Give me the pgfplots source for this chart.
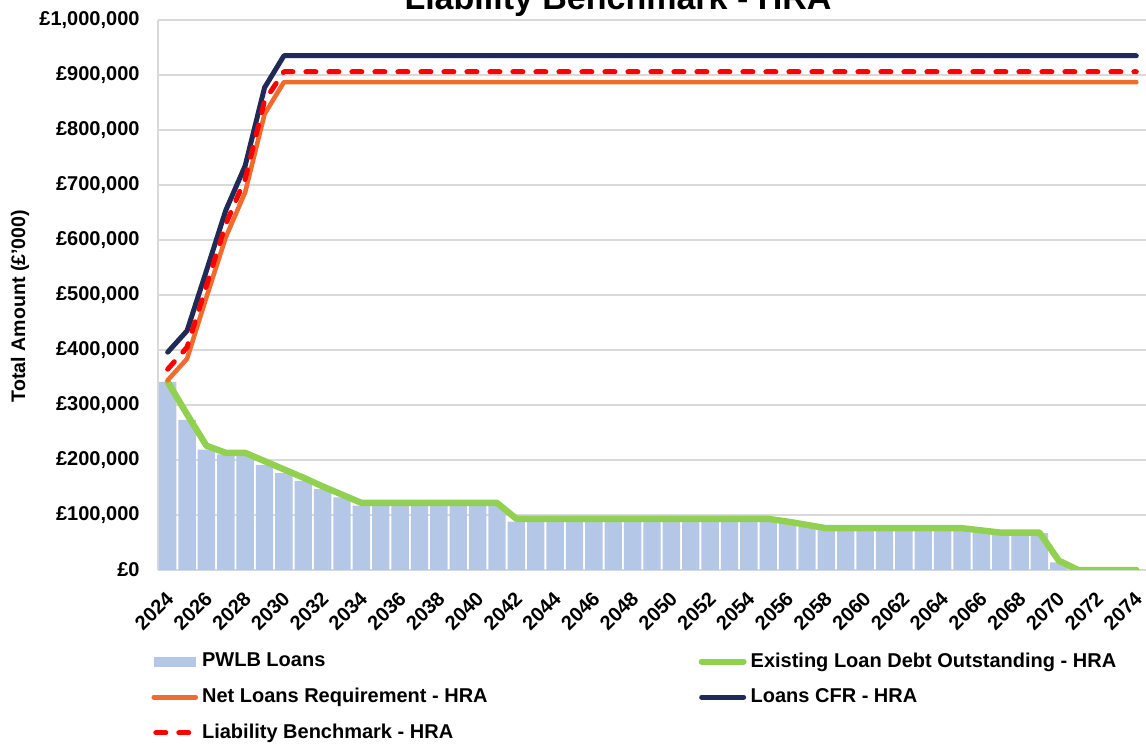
\documentclass[border=0pt]{standalone}
\usepackage{pgfplots}
\pgfplotsset{compat=1.18}
\usepackage{pgfplotstable}
\usepackage{fontspec}
\setmainfont{Liberation Sans}
\definecolor{barblue}{HTML}{B4C7E7}
\definecolor{exgreen}{HTML}{92D050}
\definecolor{netorange}{HTML}{F26B2E}
\definecolor{cfrnavy}{HTML}{1F2A56}
\definecolor{gridgray}{HTML}{D9D9D9}

\pgfplotstableread{
year pwlb existing net cfr lb
2024 342000 342000 345000 396000 365000
2025 273000 283000 384000 435000 405000
2026 219000 226000 496000 544000 517000
2027 210000 213000 605000 654000 629000
2028 208000 213000 687000 735000 711000
2029 191000 198000 829000 877000 853000
2030 176000 183000 887000 935000 906000
2031 162000 168000 887000 935000 906000
2032 147000 152000 887000 935000 906000
2033 132000 137000 887000 935000 906000
2034 117000 122000 887000 935000 906000
2035 117000 122000 887000 935000 906000
2036 117000 122000 887000 935000 906000
2037 117000 122000 887000 935000 906000
2038 117000 122000 887000 935000 906000
2039 117000 122000 887000 935000 906000
2040 117000 122000 887000 935000 906000
2041 117000 122000 887000 935000 906000
2042 88000 93000 887000 935000 906000
2043 88000 93000 887000 935000 906000
2044 88000 93000 887000 935000 906000
2045 88000 93000 887000 935000 906000
2046 88000 93000 887000 935000 906000
2047 88000 93000 887000 935000 906000
2048 88000 93000 887000 935000 906000
2049 88000 93000 887000 935000 906000
2050 88000 93000 887000 935000 906000
2051 88000 93000 887000 935000 906000
2052 88000 93000 887000 935000 906000
2053 88000 93000 887000 935000 906000
2054 88000 93000 887000 935000 906000
2055 88000 93000 887000 935000 906000
2056 85000 88000 887000 935000 906000
2057 78000 82000 887000 935000 906000
2058 73000 76000 887000 935000 906000
2059 73000 76000 887000 935000 906000
2060 73000 76000 887000 935000 906000
2061 73000 76000 887000 935000 906000
2062 73000 76000 887000 935000 906000
2063 73000 76000 887000 935000 906000
2064 73000 76000 887000 935000 906000
2065 73000 76000 887000 935000 906000
2066 68000 72000 887000 935000 906000
2067 65000 68000 887000 935000 906000
2068 65000 68000 887000 935000 906000
2069 67000 68000 887000 935000 906000
2070 14000 17000 887000 935000 906000
2071 0 0 887000 935000 906000
2072 0 0 887000 935000 906000
2073 0 0 887000 935000 906000
2074 0 0 887000 935000 906000
}\datatable

\begin{document}
\begin{tikzpicture}
\useasboundingbox (0pt,0pt) rectangle (573pt,372pt);
\node[anchor=base, font=\bfseries\fontsize{17}{20}\selectfont] at (309pt,367pt) {Liability Benchmark - HRA};
\begin{axis}[
  at={(79pt,87pt)}, anchor=south west,
  scale only axis,
  width=494pt, height=275pt,
  xmin=2023.5, xmax=2074.5,
  ymin=0, ymax=1000000,
  axis x line*=bottom, axis y line*=left,
  axis line style={draw=gridgray, line width=0.8pt, -},
  ymajorgrids, grid style={draw=gridgray, line width=0.8pt},
  major tick length=0pt,
  xtick={2024,2026,...,2074},
  xticklabels={2024,2026,2028,2030,2032,2034,2036,2038,2040,2042,2044,2046,2048,2050,2052,2054,2056,2058,2060,2062,2064,2066,2068,2070,2072,2074},
  xticklabel style={font=\bfseries\fontsize{10}{12}\selectfont, xshift=1.2pt, yshift=-12.5pt, rotate=45, anchor=east, inner sep=0pt},
  ytick={0,100000,...,1000000},
  yticklabels={£0,{£100,000},{£200,000},{£300,000},{£400,000},{£500,000},{£600,000},{£700,000},{£800,000},{£900,000},{£1,000,000}},
  yticklabel style={font=\bfseries\fontsize{10}{12}\selectfont, xshift=-5.7pt},
  scaled y ticks=false,
  ylabel={Total Amount (£'000)},
  every axis y label/.style={at={(axis description cs:-0.1397,0.48)}, rotate=90, anchor=center, font=\bfseries\fontsize{9.8}{12}\selectfont},
  legend columns=2,
  legend cell align=left,
  legend style={draw=none, fill=none, inner sep=0pt, at={(axis description cs:-0.007,-0.1425)}, anchor=north west,
    font=\bfseries\fontsize{10}{12}\selectfont, row sep=5.1pt,
    /tikz/column 2/.style={column sep=103.5pt}},
]
\addplot[ybar, bar width=8.7pt, fill=barblue, draw=none,
  legend image code/.code={\fill[barblue] (0pt,-2.5pt) rectangle (21pt,2.5pt);}]
  table[x=year, y=pwlb] {\datatable};
\addlegendentry{PWLB Loans}
\addplot[exgreen, line width=3.2pt, line join=round, line cap=round,
  legend image code/.code={\draw[exgreen, line width=3pt, line cap=round] (0pt,0pt) -- (21pt,0pt);}]
  table[x=year, y=existing] {\datatable};
\addlegendentry{Existing Loan Debt Outstanding - HRA}
\addplot[netorange, line width=2.3pt, line join=round, line cap=round,
  legend image code/.code={\draw[netorange, line width=2.3pt, line cap=round] (0pt,0pt) -- (21pt,0pt);}]
  table[x=year, y=net] {\datatable};
\addlegendentry{Net Loans Requirement - HRA}
\addplot[cfrnavy, line width=2.5pt, line join=round, line cap=round,
  legend image code/.code={\draw[cfrnavy, line width=2.5pt, line cap=round] (0pt,0pt) -- (21pt,0pt);}]
  table[x=year, y=cfr] {\datatable};
\addlegendentry{Loans CFR - HRA}
\addplot[red, line width=2.5pt, line join=round, line cap=round, dash pattern=on 5pt off 6.5pt,
  legend image code/.code={\draw[red, line width=2.5pt, line cap=round, dash pattern=on 5pt off 6.5pt] (1pt,0pt) -- (20pt,0pt);}]
  table[x=year, y=lb] {\datatable};
\addlegendentry{Liability Benchmark - HRA}
\end{axis}
\end{tikzpicture}
\end{document}
